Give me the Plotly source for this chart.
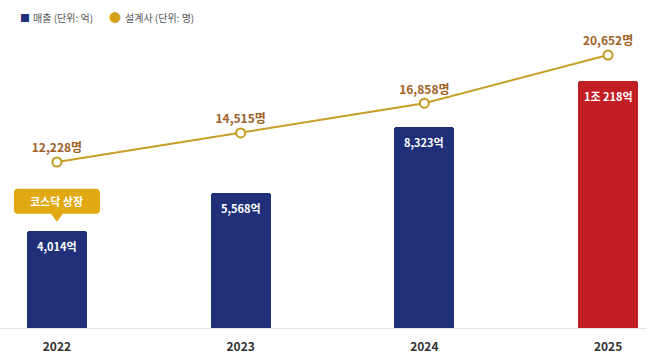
import plotly.graph_objects as go

years = ["2022", "2023", "2024", "2025"]
sales = [4014, 5568, 8323, 10218]          # 매출 (억)
planners = [12228, 14515, 16858, 20652]    # 설계사 (명)
bar_colors = ["#1F2F78", "#1F2F78", "#1F2F78", "#C21E24"]
legend_names = ["매출 (단위: 억)", "설계사 (단위: 명)"]
callout_text = "코스닥 상장"

FONT = "Noto Sans CJK KR"
W, H = 647, 361
T, B = 20, 33
PH = H - T - B


def sales_label(v):
    if v >= 10000:
        return f"{v // 10000}조 {v % 10000:,}억"
    return f"{v:,}억"


xs = list(range(len(years)))

fig = go.Figure()

fig.add_trace(go.Bar(
    x=xs, y=sales, name=legend_names[0],
    marker=dict(color=bar_colors, line=dict(width=0)),
    width=0.327, showlegend=False, hoverinfo="skip",
))

fig.add_trace(go.Scatter(
    x=xs, y=planners, yaxis="y2", mode="lines+markers+text", name=legend_names[1],
    line=dict(color="#C79E26", width=2),
    marker=dict(size=9, color="white", line=dict(color="#C49A1E", width=2)),
    text=[f"{v:,}명" for v in planners], textposition="top center",
    textfont=dict(family=FONT, size=12, color="#9E6227", weight="bold"),
    showlegend=False, hoverinfo="skip", cliponaxis=False,
))

annotations = []
for x, v in zip(xs, sales):
    annotations.append(dict(
        x=x, y=v, xref="x", yref="y", text=sales_label(v), showarrow=False,
        yshift=-15, font=dict(family=FONT, size=11, color="white", weight="bold"),
    ))

# KOSDAQ listing callout above the 2022 bar
annotations.append(dict(
    x=xs[0], y=sales[0], xref="x", yref="y", text=callout_text, showarrow=False,
    yshift=30, font=dict(family=FONT, size=11, color="white", weight="bold"),
))

# custom legend (top-left)
leg_y = 1 + (T - 18) / PH
annotations += [
    dict(x=18 / W, y=leg_y, xref="paper", yref="paper", xanchor="left", yanchor="middle",
         text="<span style='color:#1F2F78'>■</span>", showarrow=False,
         font=dict(family=FONT, size=10)),
    dict(x=31 / W, y=leg_y, xref="paper", yref="paper", xanchor="left", yanchor="middle",
         text=legend_names[0], showarrow=False,
         font=dict(family=FONT, size=10, color="#555555")),
    dict(x=107 / W, y=leg_y, xref="paper", yref="paper", xanchor="left", yanchor="middle",
         text="<span style='color:#D4A017'>●</span>", showarrow=False,
         font=dict(family=FONT, size=12)),
    dict(x=123 / W, y=leg_y, xref="paper", yref="paper", xanchor="left", yanchor="middle",
         text=legend_names[1], showarrow=False,
         font=dict(family=FONT, size=10, color="#555555")),
]

shapes = [dict(
    type="path", xref="x", yref="y",
    xsizemode="pixel", ysizemode="pixel", xanchor=xs[0], yanchor=sales[0],
    path=("M -39 17 L -6 17 L 0 9 L 6 17 L 39 17 Q 43 17 43 21 L 43 38 "
          "Q 43 42 39 42 L -39 42 Q -43 42 -43 38 L -43 21 Q -43 17 -39 17 Z"),
    fillcolor="#E2A912", line=dict(width=0), layer="above",
)]

fig.update_layout(
    width=W, height=H,
    margin=dict(l=0, r=0, t=T, b=B),
    paper_bgcolor="white", plot_bgcolor="white",
    bargap=0, barcornerradius=3, showlegend=False,
    font=dict(family=FONT),
    xaxis=dict(
        range=[-0.31, 3.212], tickvals=xs, ticktext=years,
        tickfont=dict(family=FONT, size=12, color="#333333", weight="bold"),
        ticks="outside", ticklen=8, tickcolor="rgba(0,0,0,0)",
        showline=True, linecolor="#E6E6E6", linewidth=1,
        showgrid=False, zeroline=False, fixedrange=True,
    ),
    yaxis=dict(range=[0, PH / 0.0242], showticklabels=False, showgrid=False,
               zeroline=False, fixedrange=True),
    yaxis2=dict(range=[-843, 23409], overlaying="y", side="right",
                showticklabels=False, showgrid=False, zeroline=False,
                fixedrange=True),
    annotations=annotations,
    shapes=shapes,
)

fig.write_html("out.html", config={"displayModeBar": False},
               post_script="document.body.style.margin='0';")
